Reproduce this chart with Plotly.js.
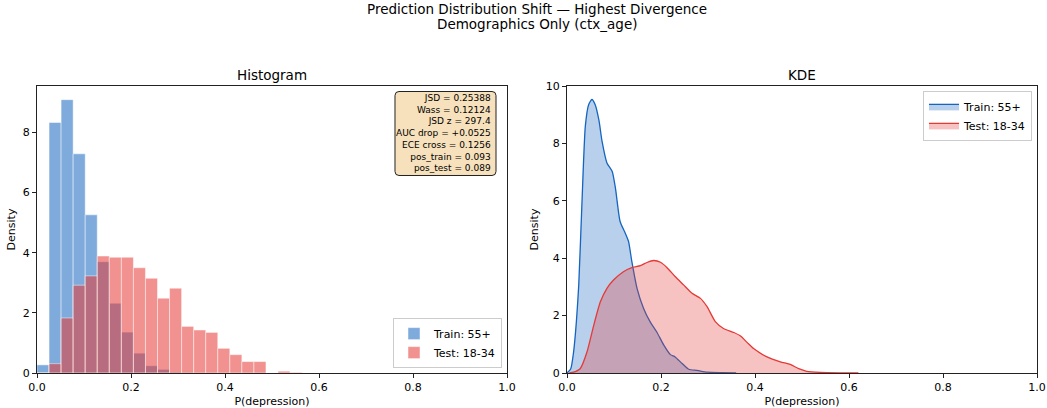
<!DOCTYPE html>
<html>
<head>
<meta charset="utf-8">
<script src="https://cdn.plot.ly/plotly-3.0.1.min.js"></script>
<style>html,body{margin:0;padding:0;background:#fff;}#chart{width:1047px;height:408px;}</style>
</head>
<body>
<div id="chart"></div>
<script>
// ---- data ----
const binCount = 39;            // bins = linspace(0, 1, 40)
const trainLabel = "Train: 55+";
const testLabel = "Test: 18-34";
const trainHist = [0.27, 8.33, 9.09, 7.29, 5.26, 3.70, 2.32, 1.36, 0.66, 0.24, 0.12, 0.03, 0.01];
const testHist  = [0, 0.31, 1.83, 2.92, 3.23, 3.89, 3.85, 3.85, 3.50, 3.15, 2.49, 2.82, 1.55, 1.43, 1.35, 0.82, 0.61, 0.38, 0.38, 0, 0.06, 0.02];

const kdeTrainX = [0.0, 0.008, 0.014, 0.02, 0.025, 0.032, 0.039, 0.046, 0.053, 0.06, 0.068, 0.0745, 0.085, 0.096, 0.103, 0.113, 0.124, 0.131, 0.138, 0.149, 0.163, 0.177, 0.191, 0.206, 0.22, 0.23, 0.245, 0.259, 0.277, 0.298, 0.33, 0.36];
const kdeTrainY = [0, 0.15, 0.73, 1.8, 3.07, 6.0, 8.6, 9.35, 9.53, 9.35, 8.8, 8.08, 7.32, 7.03, 6.45, 5.28, 4.87, 4.58, 3.88, 2.95, 2.25, 1.78, 1.43, 0.97, 0.64, 0.56, 0.33, 0.13, 0.09, 0.03, 0.01, 0];
const kdeTestX = [0.005, 0.014, 0.028, 0.0425, 0.057, 0.071, 0.085, 0.099, 0.12, 0.138, 0.156, 0.17, 0.184, 0.199, 0.213, 0.23, 0.248, 0.266, 0.284, 0.298, 0.316, 0.333, 0.355, 0.37, 0.384, 0.397, 0.4255, 0.454, 0.475, 0.493, 0.51, 0.539, 0.58, 0.62];
const kdeTestY = [0, 0.03, 0.15, 0.73, 1.67, 2.48, 2.95, 3.24, 3.53, 3.67, 3.74, 3.85, 3.92, 3.86, 3.67, 3.36, 3.07, 2.78, 2.60, 2.31, 1.78, 1.55, 1.41, 1.28, 1.05, 0.85, 0.56, 0.39, 0.30, 0.15, 0.06, 0.02, 0.005, 0];

const statsLines = ["JSD = 0.25388", "Wass = 0.12124", "JSD z = 297.4", "AUC drop = +0.0525", "ECE cross = 0.1256", "pos_train = 0.093", "pos_test = 0.089"];
const xTicks = [0, 0.2, 0.4, 0.6, 0.8, 1.0];
const suptitle1 = "Prediction Distribution Shift — Highest Divergence";
const suptitle2 = "Demographics Only (ctx_age)";

// ---- build ----
const binW = 1 / binCount;
const centers = n => Array.from({length: n}, (_, i) => (i + 0.5) * binW);
const FONT = "DejaVu Sans, sans-serif";

const traces = [
  {type: "bar", x: centers(trainHist.length), y: trainHist, width: binW, name: trainLabel,
   marker: {color: "rgba(21,101,192,0.55)", line: {color: "rgba(255,255,255,0.8)", width: 0.6}},
   xaxis: "x", yaxis: "y", legend: "legend"},
  {type: "bar", x: centers(testHist.length), y: testHist, width: binW, name: testLabel,
   marker: {color: "rgba(229,57,53,0.55)", line: {color: "rgba(255,255,255,0.8)", width: 0.6}},
   xaxis: "x", yaxis: "y", legend: "legend"},
  {type: "scatter", mode: "lines", x: kdeTrainX, y: kdeTrainY, name: trainLabel, fill: "tozeroy",
   fillcolor: "rgba(21,101,192,0.3)", line: {color: "#1565C0", width: 1.3, shape: "spline", smoothing: 0.6},
   xaxis: "x2", yaxis: "y2", legend: "legend2"},
  {type: "scatter", mode: "lines", x: kdeTestX, y: kdeTestY, name: testLabel, fill: "tozeroy",
   fillcolor: "rgba(229,57,53,0.3)", line: {color: "#E53935", width: 1.3, shape: "spline", smoothing: 0.6},
   xaxis: "x2", yaxis: "y2", legend: "legend2"}
];

const axBase = {
  showline: true, mirror: true, linecolor: "#222", linewidth: 1,
  ticks: "outside", ticklen: 4, tickwidth: 1, tickcolor: "#222",
  showgrid: false, zeroline: false,
  tickfont: {family: FONT, size: 11, color: "#000"}
};
const xTitle = {text: "P(depression)", font: {family: FONT, size: 11, color: "#000"}};
const yTitle = {text: "Density", font: {family: FONT, size: 11, color: "#000"}, standoff: 4};

// rounded box for stats (in x/y domain units of the left panel: 470 x 287 px)
const bx0 = 0.7617, bx1 = 0.9766, by0 = 0.6882, by1 = 0.9808, rx = 4/470, ry = 4/287;
const boxPath = `M ${bx0+rx},${by0} L ${bx1-rx},${by0} Q ${bx1},${by0} ${bx1},${by0+ry} L ${bx1},${by1-ry} Q ${bx1},${by1} ${bx1-rx},${by1} L ${bx0+rx},${by1} Q ${bx0},${by1} ${bx0},${by1-ry} L ${bx0},${by0+ry} Q ${bx0},${by0} ${bx0+rx},${by0} Z`;

const legBase = {
  bgcolor: "rgba(255,255,255,0.85)", bordercolor: "#cccccc", borderwidth: 1,
  font: {family: FONT, size: 11, color: "#000"}, itemwidth: 30, tracegroupgap: 0
};

const layout = {
  width: 1047, height: 408,
  margin: {l: 37, r: 10, t: 86, b: 35},
  paper_bgcolor: "#fff", plot_bgcolor: "#fff",
  font: {family: FONT, size: 11, color: "#000"},
  barmode: "overlay", bargap: 0,
  showlegend: true,
  xaxis: Object.assign({}, axBase, {domain: [0, 0.47], range: [0, 1], tickvals: xTicks, tickformat: ".1f", anchor: "y", title: xTitle}),
  yaxis: Object.assign({}, axBase, {domain: [0, 1], range: [0, 9.545], dtick: 2, anchor: "x", title: yTitle}),
  xaxis2: Object.assign({}, axBase, {domain: [0.53, 1], range: [0, 1], tickvals: xTicks, tickformat: ".1f", anchor: "y2", title: xTitle}),
  yaxis2: Object.assign({}, axBase, {domain: [0, 1], range: [0, 10], dtick: 2, anchor: "x2", title: yTitle}),
  legend: Object.assign({}, legBase, {x: 0.465, xanchor: "right", y: 0.017, yanchor: "bottom"}),
  legend2: Object.assign({}, legBase, {x: 0.995, xanchor: "right", y: 0.983, yanchor: "top"}),
  shapes: [
    {type: "path", xref: "x domain", yref: "y domain", path: boxPath,
     fillcolor: "#f6e1bc", line: {color: "#222", width: 1}, layer: "above"}
  ],
  annotations: [
    {xref: "paper", yref: "paper", x: 0.5, xanchor: "center", y: 1 + (86 - 9) / 287, yanchor: "middle",
     text: suptitle1, showarrow: false, font: {family: FONT, size: 13.5, color: "#000"}},
    {xref: "paper", yref: "paper", x: 0.5, xanchor: "center", y: 1 + (86 - 24) / 287, yanchor: "middle",
     text: suptitle2, showarrow: false, font: {family: FONT, size: 13.5, color: "#000"}},
    {xref: "x domain", yref: "y domain", x: 0.5, xanchor: "center", y: 1 + (86 - 75) / 287, yanchor: "middle",
     text: "Histogram", showarrow: false, font: {family: FONT, size: 13.5, color: "#000"}},
    {xref: "x2 domain", yref: "y2 domain", x: 0.5, xanchor: "center", y: 1 + (86 - 75) / 287, yanchor: "middle",
     text: "KDE", showarrow: false, font: {family: FONT, size: 13.5, color: "#000"}},
    {xref: "x domain", yref: "y domain", x: (492.5 - 37) / 470, xanchor: "right", y: (373 - 133.4) / 287, yanchor: "middle",
     align: "right", text: statsLines.join("<br>"), showarrow: false, font: {family: FONT, size: 9, color: "#000"}}
  ]
};

Plotly.newPlot("chart", traces, layout, {staticPlot: true, displayModeBar: false});
</script>
</body>
</html>
